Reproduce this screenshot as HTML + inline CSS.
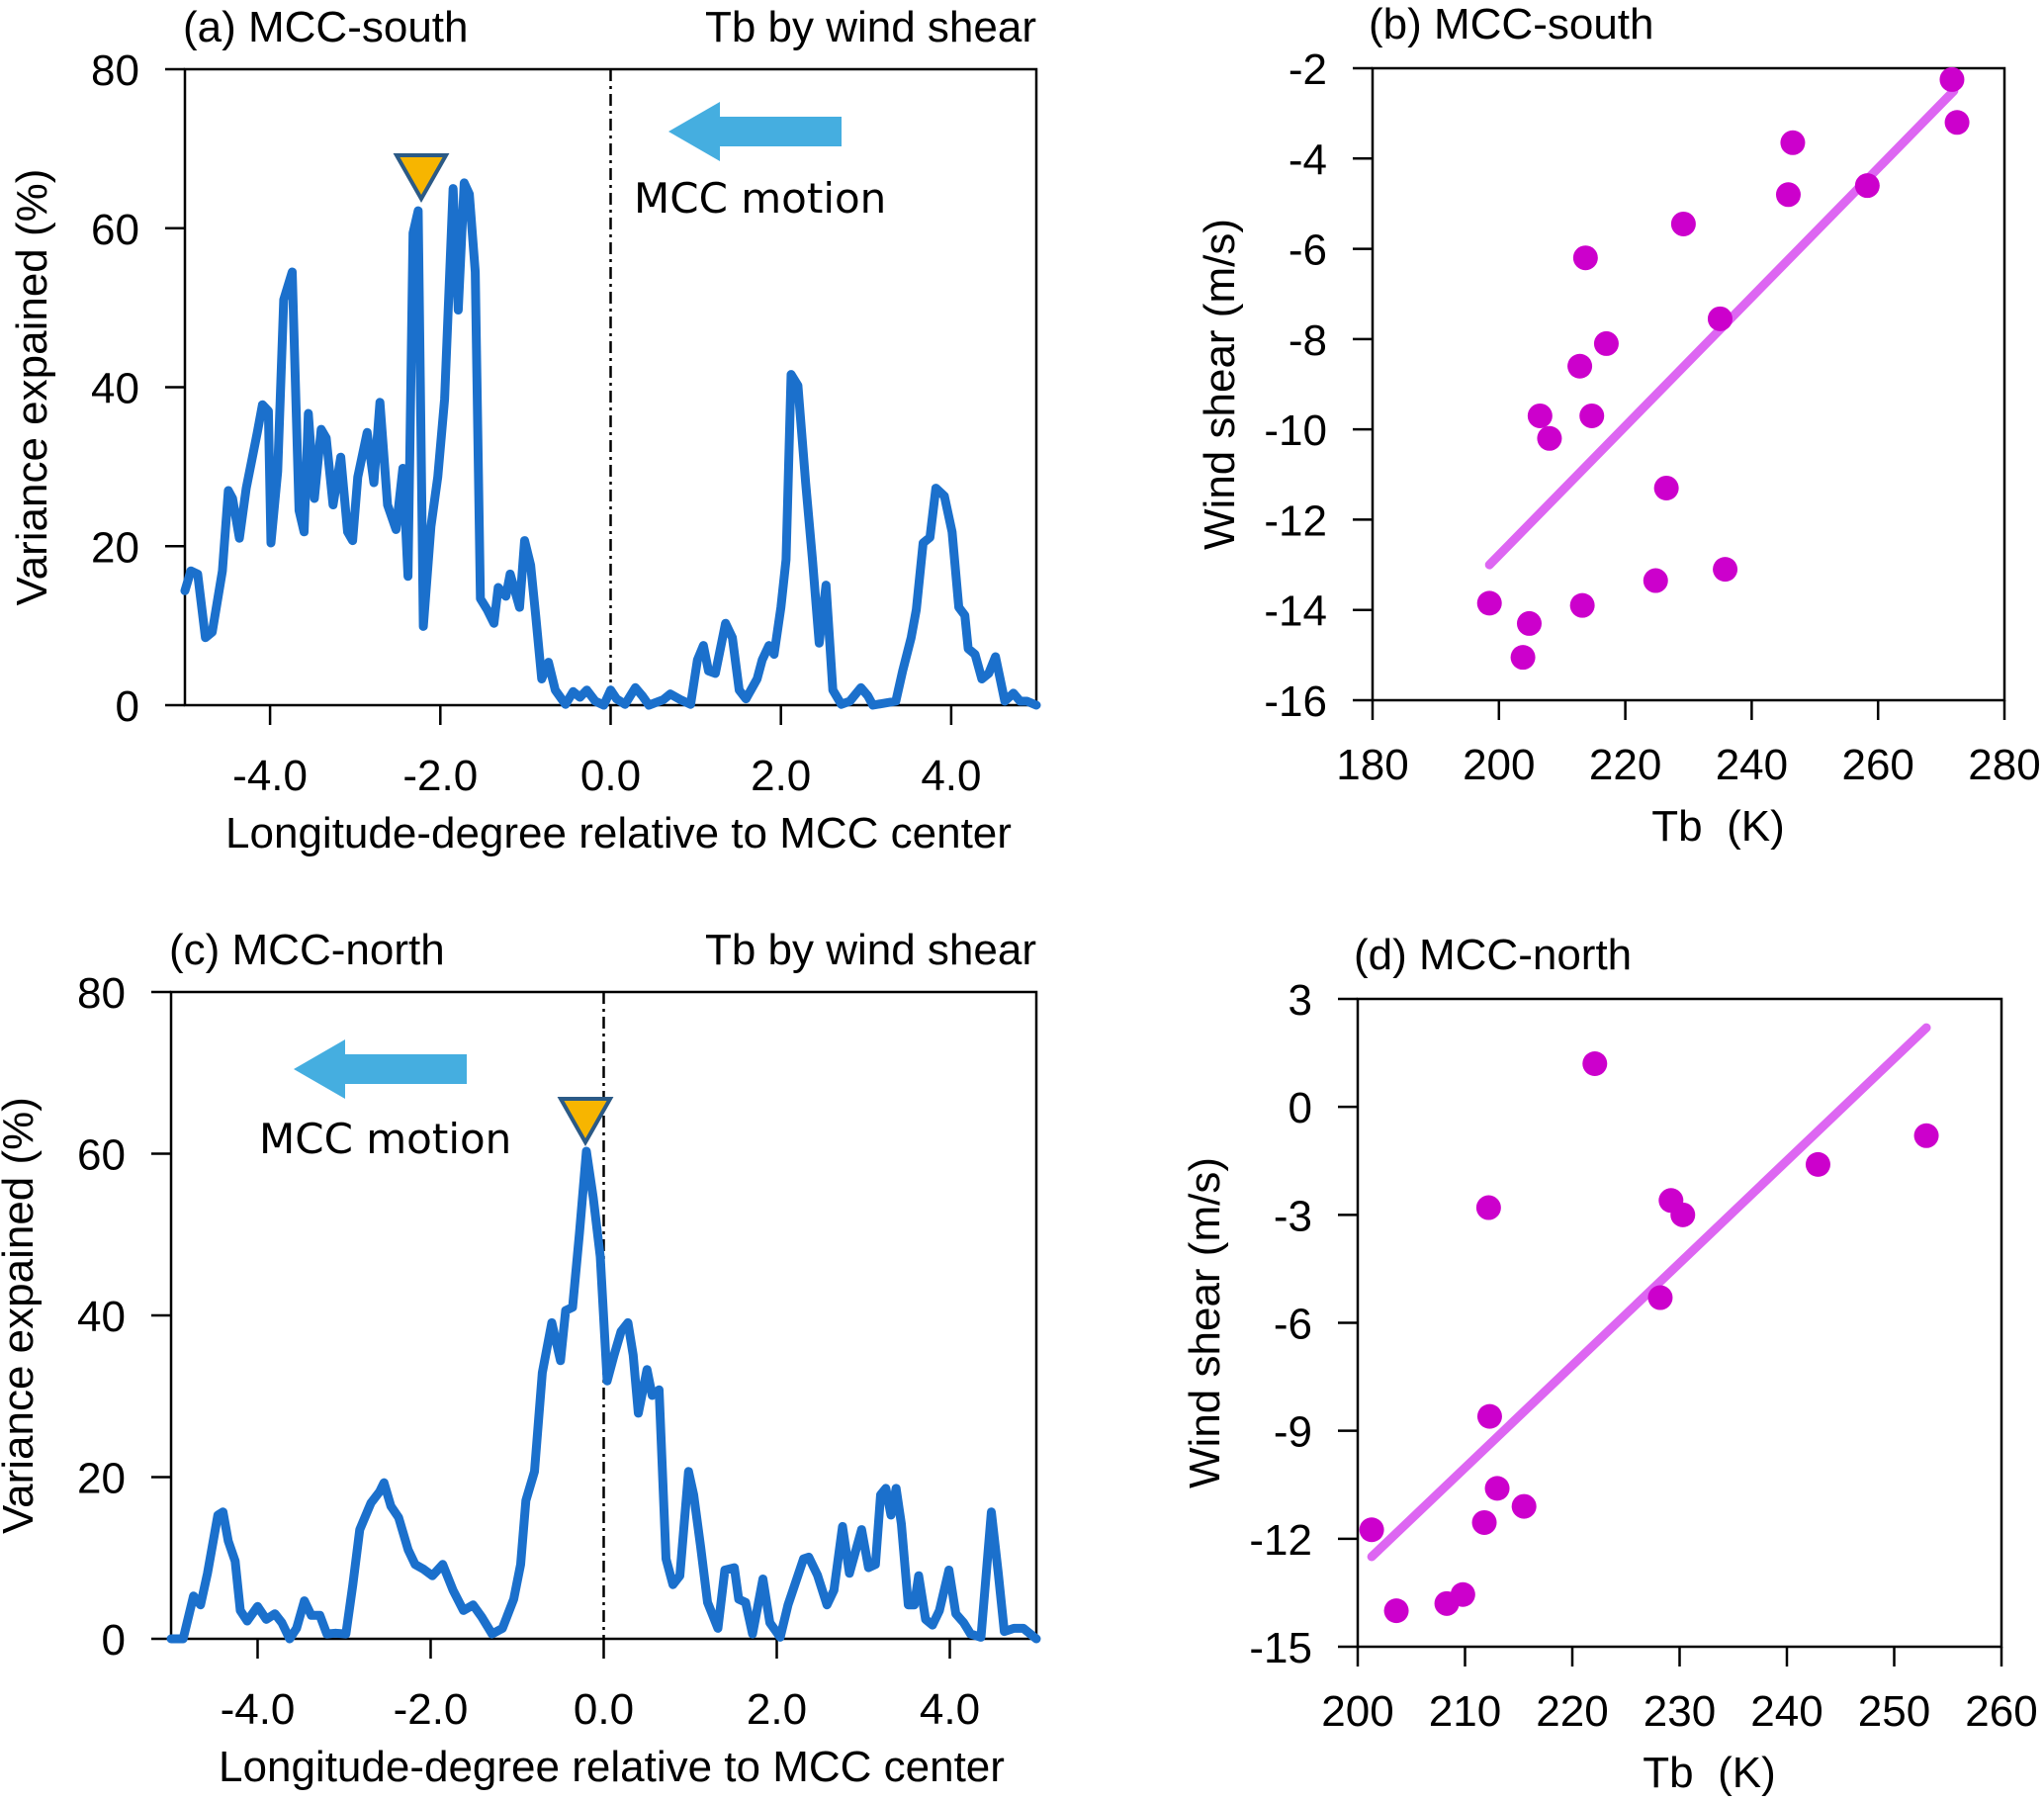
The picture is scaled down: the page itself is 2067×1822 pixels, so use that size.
<!DOCTYPE html>
<html><head><meta charset="utf-8"><style>
html,body{margin:0;padding:0;background:#fff;}
svg{display:block;}
svg text{font-family:"Liberation Sans",Arial,sans-serif;}
</style></head><body>
<svg id="fig" width="2067" height="1822" viewBox="0 0 2067 1822" xmlns="http://www.w3.org/2000/svg" font-family="Liberation Sans, Arial, sans-serif"></svg>
<script>
// ---- Panel (a) data: longitude offsets and variance explained ----
const aLon = [-5,-4.93,-4.85,-4.76,-4.68,-4.56,-4.49,-4.44,-4.36,-4.28,-4.15,-4.09,-4.02,-3.99,-3.91,-3.84,-3.74,-3.66,-3.6,-3.55,-3.48,-3.4,-3.34,-3.26,-3.17,-3.09,-3.03,-2.97,-2.86,-2.78,-2.71,-2.62,-2.52,-2.44,-2.38,-2.32,-2.26,-2.2,-2.11,-2.03,-1.95,-1.85,-1.79,-1.72,-1.66,-1.59,-1.53,-1.45,-1.37,-1.32,-1.23,-1.18,-1.07,-1.01,-0.94,-0.88,-0.81,-0.73,-0.65,-0.53,-0.44,-0.36,-0.28,-0.18,-0.08,0,0.07,0.17,0.29,0.37,0.45,0.62,0.7,0.82,0.94,1.02,1.09,1.15,1.23,1.35,1.43,1.51,1.59,1.72,1.78,1.86,1.92,2.0,2.06,2.12,2.2,2.29,2.37,2.45,2.53,2.61,2.71,2.81,2.94,3.02,3.08,3.35,3.43,3.53,3.59,3.67,3.75,3.82,3.92,4.01,4.09,4.16,4.2,4.28,4.36,4.44,4.52,4.63,4.73,4.81,4.89,5];
const aVar = [14.4,16.9,16.5,8.5,9.2,16.9,27,26,21,27.3,34.3,37.8,37,20.4,29.4,51,54.5,24.5,21.8,36.7,26,34.7,33.6,25.2,31.2,21.8,20.7,28.7,34.3,28,38.1,25.2,22.1,29.8,16.2,59.4,62.2,9.9,22.5,28.7,38.5,65,49.7,65.7,64.3,54.5,13.4,12,10.3,14.8,13.7,16.5,12.3,20.7,17.6,11.3,3.3,5.4,1.9,0.1,1.7,1,1.9,0.5,0,1.9,0.8,0.1,2.2,1.2,0,0.7,1.4,0.7,0.1,5.7,7.5,4.3,4,10.3,8.5,1.9,0.8,3.3,5.7,7.5,6.4,12.3,18.3,41.6,40.2,28,18.3,7.8,15.1,1.9,0.1,0.5,2.2,1.2,0,0.5,4.3,8.5,12,20.4,21.1,27.3,26.3,21.8,12.3,11.3,7.1,6.4,3.3,4,6.1,0.5,1.5,0.5,0.5,0];
// ---- Panel (c) data ----
const cLon = [-5,-4.86,-4.74,-4.66,-4.58,-4.46,-4.4,-4.34,-4.26,-4.2,-4.12,-4.0,-3.9,-3.8,-3.72,-3.63,-3.55,-3.46,-3.38,-3.28,-3.2,-3.1,-2.98,-2.9,-2.82,-2.69,-2.59,-2.54,-2.46,-2.37,-2.26,-2.18,-2.08,-1.98,-1.86,-1.74,-1.62,-1.51,-1.41,-1.29,-1.17,-1.04,-0.96,-0.9,-0.8,-0.71,-0.6,-0.5,-0.44,-0.36,-0.28,-0.2,-0.12,-0.04,0.04,0.12,0.2,0.28,0.34,0.4,0.5,0.56,0.64,0.72,0.8,0.88,0.98,1.04,1.12,1.2,1.32,1.4,1.51,1.56,1.64,1.72,1.84,1.92,2.04,2.13,2.31,2.37,2.47,2.58,2.66,2.76,2.84,2.98,3.06,3.14,3.2,3.26,3.32,3.38,3.44,3.52,3.59,3.64,3.72,3.8,3.88,3.99,4.07,4.16,4.24,4.36,4.48,4.56,4.63,4.74,4.85,5];
const cVar = [0,0,5.3,4.2,8.1,15.3,15.7,12.1,9.6,3.5,2.2,4,2.4,3.1,2,0,1.3,4.7,2.9,2.9,0.6,0.7,0.6,6.7,13.5,16.8,18.2,19.3,16.4,15,11,9.2,8.6,7.8,9.2,6,3.5,4.2,2.7,0.6,1.3,4.9,9.2,17.1,20.7,32.9,39.1,34.4,40.6,41,50.2,60.3,54.5,47.3,31.9,35.1,38,39.1,35.1,27.9,33.3,30.1,30.8,9.9,6.7,7.8,20.7,17.8,11.4,4.5,1.3,8.5,8.8,4.9,4.5,0.6,7.4,2,0.2,4.2,9.9,10.1,7.9,4.2,6,13.9,8.1,13.5,8.8,9.2,17.8,18.6,15.3,18.6,14.2,4.2,4.2,7.8,2.4,1.7,3.5,8.5,3.1,2,0.6,0.2,15.7,8.1,0.9,1.3,1.3,0];
const lineTicks = [-4,-2,0,2,4];
const lineTickLabels = ["-4.0","-2.0","0.0","2.0","4.0"];
const varTicks = [0,20,40,60,80];
// ---- Panel (b) data ----
const bTb = [198.5,204.8,203.8,206.5,208,212.8,213.2,213.7,214.7,217,224.8,226.5,229.2,235,235.8,245.8,246.5,258.3,271.7,272.5];
const bShear = [-13.85,-14.3,-15.05,-9.7,-10.2,-8.6,-13.9,-6.2,-9.7,-8.1,-13.35,-11.3,-5.45,-7.55,-13.1,-4.8,-3.65,-4.6,-2.25,-3.2];
const bFitTb = [198.5,272];
const bFitShear = [-13.0,-2.5];
const bXTicks = [180,200,220,240,260,280];
const bYTicks = [-2,-4,-6,-8,-10,-12,-14,-16];
// ---- Panel (d) data ----
const dTb = [201.3,203.6,208.3,209.8,211.8,212.2,212.3,213,215.5,222.1,228.2,229.2,230.3,242.9,253];
const dShear = [-11.75,-14,-13.8,-13.55,-11.55,-2.8,-8.6,-10.6,-11.1,1.2,-5.3,-2.6,-3.0,-1.6,-0.8];
const dFitTb = [201.3,253];
const dFitShear = [-12.5,2.2];
const dXTicks = [200,210,220,230,240,250,260];
const dYTicks = [3,0,-3,-6,-9,-12,-15];

const NS="http://www.w3.org/2000/svg";
const svg=document.getElementById('fig');
function el(tag,attrs,parent){const e=document.createElementNS(NS,tag);for(const k in attrs)e.setAttribute(k,attrs[k]);(parent||svg).appendChild(e);return e;}
function txt(s,attrs,parent){const e=el('text',attrs,parent);e.textContent=s;return e;}
function scale(d0,d1,r0,r1){return v=>r0+(v-d0)/(d1-d0)*(r1-r0);}
const FS=44;

function frame(g,L,R,T,B){
  const f=el('rect',{x:L,y:T,width:R-L,height:B-T,fill:'none',stroke:'#000','stroke-width':2.5},g);
  
  
}

function linePanel(id,lon,vals,L,R,T,B,title,arrow,tri){
  const g=el('g',{});
  
  
  const x=scale(-5,5,L,R), y=scale(0,80,B,T);
  frame(g,L,R,T,B);
  varTicks.forEach(v=>{
    const t=el('line',{x1:L-20,x2:L,y1:y(v),y2:y(v),stroke:'#000','stroke-width':2.5},g);
    
    
    const lb=txt(String(v),{x:L-46,y:y(v)+16,'font-size':FS,'text-anchor':'end'},g);
    
    
  });
  lineTicks.forEach((v,i)=>{
    const t=el('line',{x1:x(v),x2:x(v),y1:B,y2:B+20,stroke:'#000','stroke-width':2.5},g);
    
    
    const lb=txt(lineTickLabels[i],{x:x(v),y:B+86,'font-size':FS,'text-anchor':'middle'},g);
    
    
  });
  const zl=el('line',{x1:x(0),x2:x(0),y1:T,y2:B,stroke:'#000','stroke-width':2.5,'stroke-dasharray':'12,5,3,5'},g);
  
  
  const pts=lon.map((v,i)=>x(v).toFixed(1)+','+y(vals[i]).toFixed(1)).join(' ');
  const pl=el('polyline',{points:pts,fill:'none',stroke:'#1b70cc','stroke-width':9,'stroke-linejoin':'round','stroke-linecap':'round'},g);
  
  
  const yt=txt('Variance expained (%)',{x:0,y:0,'font-size':FS,'text-anchor':'middle',transform:`translate(${L-140},${(T+B)/2}) rotate(-90)`},g);
  
  
  const xt=txt('Longitude-degree relative to MCC center',{x:x(0)+8,y:B+144,'font-size':FS,'text-anchor':'middle'},g);
  
  
  const tt=txt(title,{x:L-2,y:T-28,'font-size':FS},g);
  
  
  const tr=txt('Tb by wind shear',{x:R,y:T-28,'font-size':FS,'text-anchor':'end'},g);
  
  
  const [ax,ay,aw]=arrow;
  const ar=el('polygon',{points:`${ax},${ay} ${ax+52},${ay-30} ${ax+52},${ay-15} ${ax+175},${ay-15} ${ax+175},${ay+15} ${ax+52},${ay+15} ${ax+52},${ay+30}`,fill:'#45aee0'},g);
  
  
  const mt=txt('MCC motion',{x:aw[0],y:aw[1],'font-size':42,style:'font-family:"DejaVu Sans",sans-serif'},g);
  
  
  const [tx,ty]=tri;
  const tg=el('polygon',{points:`${tx-25},${ty} ${tx+25},${ty} ${tx},${ty+44}`,fill:'#f7b500',stroke:'#2b5a86','stroke-width':4,'stroke-linejoin':'miter'},g);
  
  
}

function scatterPanel(id,tb,sh,fx,fy,xt,yt,L,R,T,B,title){
  const g=el('g',{});
  
  
  const x=scale(xt[0],xt[xt.length-1],L,R), y=scale(yt[0],yt[yt.length-1],T,B);
  frame(g,L,R,T,B);
  yt.forEach(v=>{
    const t=el('line',{x1:L-20,x2:L,y1:y(v),y2:y(v),stroke:'#000','stroke-width':2.5},g);
    
    
    const lb=txt(String(v),{x:L-46,y:y(v)+16,'font-size':FS,'text-anchor':'end'},g);
    
    
  });
  xt.forEach(v=>{
    const t=el('line',{x1:x(v),x2:x(v),y1:B,y2:B+20,stroke:'#000','stroke-width':2.5},g);
    
    
    const lb=txt(String(v),{x:x(v),y:B+80,'font-size':FS,'text-anchor':'middle'},g);
    
    
  });
  const fl=el('line',{x1:x(fx[0]),y1:y(fy[0]),x2:x(fx[1]),y2:y(fy[1]),stroke:'#dd66f2','stroke-width':9,'stroke-linecap':'round'},g);
  
  
  tb.forEach((v,i)=>{
    const c=el('circle',{cx:x(v),cy:y(sh[i]),r:12.5,fill:'#cc00cc'},g);
    
    
  });
  const a=txt('Wind shear (m/s)',{x:0,y:0,'font-size':FS,'text-anchor':'middle',transform:`translate(${L-140},${(T+B)/2}) rotate(-90)`},g);
  
  
  const b=txt('Tb\u00a0\u00a0(K)',{x:(L+R)/2+30,y:B+142,'font-size':FS,'text-anchor':'middle'},g);
  
  
  const c=txt(title,{x:L-4,y:T-30,'font-size':FS},g);
  
  
}

linePanel('panel-a-mcc-south',aLon,aVar,187,1048,70,713,'(a) MCC-south',[676,133,[641,215]],[426,157]);
linePanel('panel-c-mcc-north',cLon,cVar,173,1048,1003,1657,'(c) MCC-north',[297,1081,[262,1166]],[592,1111]);
scatterPanel('panel-b-mcc-south',bTb,bShear,bFitTb,bFitShear,bXTicks,bYTicks,1388,2027,69,708,'(b) MCC-south');
scatterPanel('panel-d-mcc-north',dTb,dShear,dFitTb,dFitShear,dXTicks,dYTicks,1373,2024,1010,1665,'(d) MCC-north');
</script>
</body></html>
